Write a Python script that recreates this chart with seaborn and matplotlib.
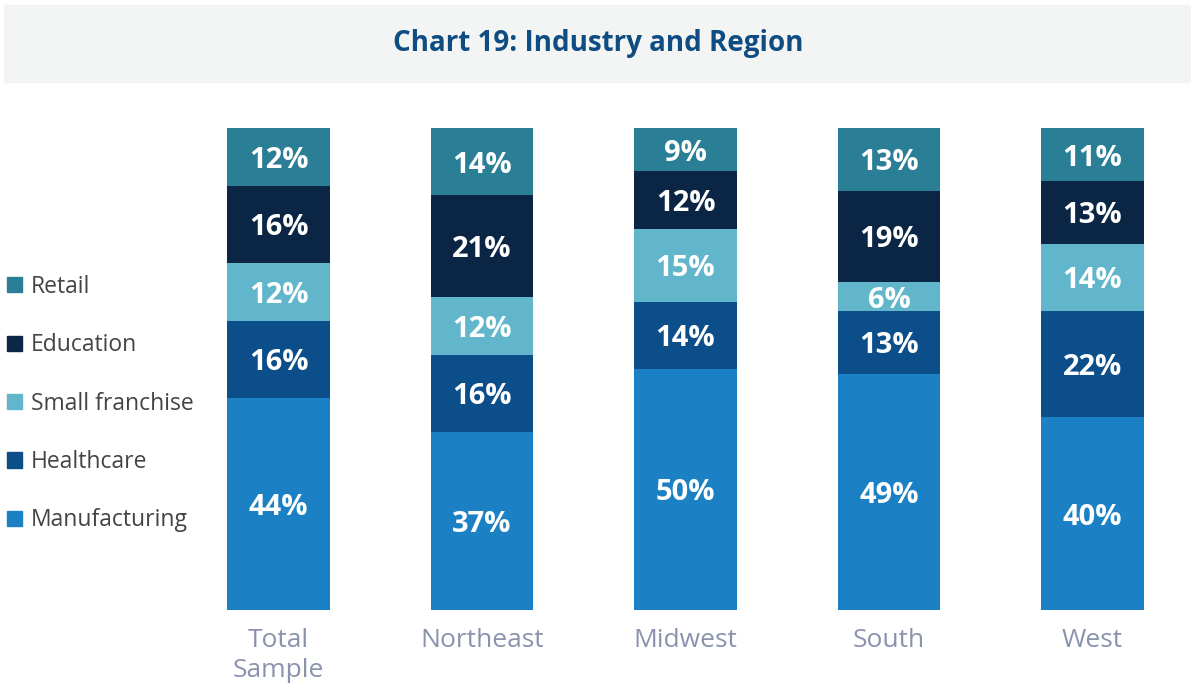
import numpy as np
import pandas as pd
import matplotlib
matplotlib.use("Agg")
import matplotlib.pyplot as plt
import matplotlib.patches as mpatches
import seaborn as sns

# data
regions = ["Total\nSample", "Northeast", "Midwest", "South", "West"]
industries = ["Manufacturing", "Healthcare", "Small franchise", "Education", "Retail"]
manufacturing = [44, 37, 50, 49, 40]
healthcare = [16, 16, 14, 13, 22]
small_franchise = [12, 12, 15, 6, 14]
education = [16, 21, 12, 19, 13]
retail = [12, 14, 9, 13, 11]

colors = {
    "Manufacturing": "#1c81c4",
    "Healthcare": "#0b4e8a",
    "Small franchise": "#62b6cc",
    "Education": "#0b2645",
    "Retail": "#2a7f96",
}

df = pd.DataFrame({
    "region": regions,
    "Manufacturing": manufacturing,
    "Healthcare": healthcare,
    "Small franchise": small_franchise,
    "Education": education,
    "Retail": retail,
})

sns.set_theme(style="white")
plt.rcParams["font.family"] = ["Open Sans", "DejaVu Sans"]

fig = plt.figure(figsize=(11.91, 6.85), dpi=100)

# title band
fig.patches.append(mpatches.Rectangle((4 / 1191, 1 - 82 / 685), 1, 77 / 685,
                                      transform=fig.transFigure, color="#f3f5f5", zorder=0))
fig.text(0.502, 1 - 44 / 685, "Chart 19: Industry and Region", ha="center", va="center",
         fontsize=20, fontweight="bold", color="#0f4c81")

ax = fig.add_axes([176.75 / 1191, 1 - 610 / 685, 1017.5 / 1191, 482 / 685])

bottom = np.zeros(len(regions))
for ind in industries:
    vals = df[ind].to_numpy()
    sns.barplot(x=df["region"], y=vals, bottom=bottom, color=colors[ind], width=0.506,
                saturation=1, linewidth=0, ax=ax, label=ind)
    for i, v in enumerate(vals):
        ax.text(i, bottom[i] + v / 2, f"{v}%", ha="center", va="center_baseline",
                color="white", fontsize=21, fontweight="bold")
    bottom += vals

ax.set_xlim(-0.5, 4.5)
ax.set_ylim(0, 100)
ax.set_xlabel("")
ax.set_ylabel("")
ax.set_yticks([])
ax.tick_params(axis="x", length=0, pad=13, labelsize=19, labelcolor="#8a93ad")
for t in ax.get_xticklabels():
    t.set_linespacing(1.28)
sns.despine(ax=ax, left=True, bottom=True)
if ax.get_legend() is not None:
    ax.get_legend().remove()

handles = [mpatches.Patch(color=colors[i]) for i in industries[::-1]]
fig.legend(handles, industries[::-1], loc="upper left", bbox_to_anchor=(0.0, 1 - 268 / 685),
           frameon=False, fontsize=16.5, labelcolor="#444444", handlelength=0.65,
           handleheight=0.65, handletextpad=0.4, labelspacing=1.5, borderpad=0.1,
           borderaxespad=0.2)

fig.savefig("out.png", dpi=100)
